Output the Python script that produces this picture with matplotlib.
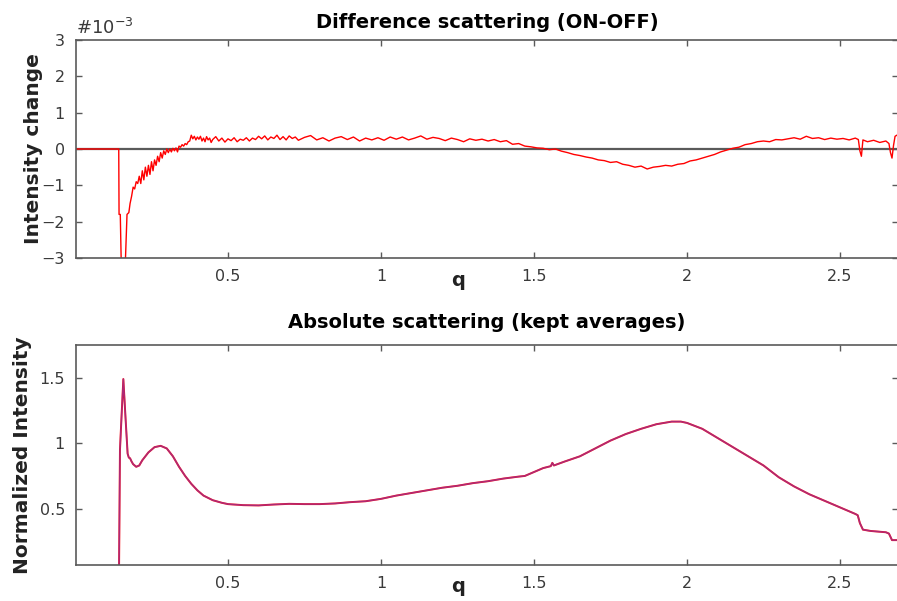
import matplotlib
matplotlib.use("Agg")
import matplotlib.pyplot as plt

# difference scattering (ON-OFF), values in units of 1e-3
q_diff = [0.0, 0.143, 0.144, 0.148, 0.152, 0.163, 0.17, 0.176, 0.18, 0.185,
          0.19, 0.195, 0.2, 0.205, 0.21, 0.215, 0.22, 0.225, 0.23, 0.235,
          0.24, 0.245, 0.25, 0.255, 0.26, 0.265, 0.27, 0.275, 0.28, 0.285,
          0.29, 0.295, 0.3, 0.305, 0.31, 0.315, 0.32, 0.325, 0.33, 0.335,
          0.34, 0.345, 0.35, 0.355, 0.36, 0.365, 0.37, 0.375, 0.38, 0.385,
          0.39, 0.395, 0.4, 0.405, 0.41, 0.415, 0.42, 0.425, 0.43, 0.435,
          0.44, 0.445, 0.45, 0.46, 0.47, 0.48, 0.49, 0.5, 0.51, 0.52,
          0.53, 0.54, 0.55, 0.56, 0.57, 0.58, 0.59, 0.6, 0.61, 0.62,
          0.63, 0.64, 0.65, 0.66, 0.67, 0.68, 0.69, 0.7, 0.71, 0.72,
          0.73, 0.75, 0.77, 0.79, 0.81, 0.83, 0.85, 0.87, 0.89, 0.91,
          0.93, 0.95, 0.97, 0.99, 1.01, 1.03, 1.05, 1.07, 1.09, 1.11,
          1.13, 1.15, 1.17, 1.19, 1.21, 1.23, 1.25, 1.27, 1.29, 1.31,
          1.33, 1.35, 1.37, 1.39, 1.41, 1.43, 1.45, 1.47, 1.49, 1.51,
          1.53, 1.55, 1.57, 1.59, 1.61, 1.63, 1.65, 1.67, 1.69, 1.71,
          1.73, 1.75, 1.77, 1.79, 1.81, 1.83, 1.85, 1.87, 1.89, 1.91,
          1.93, 1.95, 1.97, 1.99, 2.01, 2.03, 2.05, 2.07, 2.09, 2.11,
          2.13, 2.15, 2.17, 2.19, 2.21, 2.23, 2.25, 2.27, 2.29, 2.31,
          2.33, 2.35, 2.37, 2.39, 2.41, 2.43, 2.45, 2.47, 2.49, 2.51,
          2.53, 2.55, 2.56, 2.565, 2.57, 2.575, 2.59, 2.61, 2.63, 2.65,
          2.66, 2.665, 2.67, 2.675, 2.68, 2.69]
diff_on_off = [0.0, 0.0, -1.8, -1.8, -3.5, -3.5, -1.8, -1.75, -1.5, -1.3,
               -1.05, -1.1, -0.9, -0.95, -0.75, -0.95, -0.6, -0.85, -0.5, -0.75,
               -0.45, -0.7, -0.35, -0.6, -0.3, -0.45, -0.2, -0.35, -0.1, -0.25,
               -0.05, -0.15, 0.0, -0.1, 0.0, -0.08, 0.02, -0.05, 0.03, -0.08,
               0.08, 0.05, 0.12, 0.08, 0.15, 0.12, 0.2, 0.22, 0.38, 0.28,
               0.35, 0.25, 0.33, 0.27, 0.35, 0.22, 0.3, 0.2, 0.34, 0.25,
               0.3, 0.18, 0.26, 0.34, 0.22, 0.3, 0.19, 0.28, 0.23, 0.31,
               0.2, 0.27, 0.24, 0.31, 0.22, 0.3, 0.26, 0.35, 0.28, 0.36,
               0.25, 0.33, 0.29, 0.38, 0.26, 0.34, 0.25, 0.36, 0.29, 0.33,
               0.24, 0.32, 0.37, 0.25, 0.31, 0.22, 0.3, 0.34, 0.26, 0.33,
               0.22, 0.3, 0.25, 0.31, 0.24, 0.33, 0.27, 0.33, 0.25, 0.3,
               0.36, 0.27, 0.32, 0.29, 0.23, 0.3, 0.26, 0.2, 0.28, 0.24,
               0.27, 0.22, 0.26, 0.2, 0.23, 0.13, 0.15, 0.08, 0.06, 0.03,
               0.02, -0.02, 0.0, -0.06, -0.1, -0.15, -0.18, -0.22, -0.25, -0.3,
               -0.32, -0.37, -0.35, -0.42, -0.45, -0.5, -0.47, -0.55, -0.5, -0.48,
               -0.45, -0.47, -0.42, -0.4, -0.33, -0.3, -0.25, -0.2, -0.15, -0.08,
               -0.03, 0.02, 0.05, 0.12, 0.15, 0.2, 0.22, 0.2, 0.26, 0.25,
               0.28, 0.31, 0.27, 0.35, 0.29, 0.31, 0.26, 0.3, 0.27, 0.29,
               0.25, 0.3, 0.26, -0.05, -0.2, 0.25, 0.2, 0.24, 0.18, 0.22,
               0.15, -0.1, -0.25, 0.1, 0.35, 0.4]

# absolute scattering (kept averages)
q_abs = [0.143, 0.144, 0.147, 0.15, 0.158, 0.165, 0.172, 0.176, 0.18, 0.185,
         0.19, 0.2, 0.21, 0.22, 0.24, 0.26, 0.28, 0.3, 0.32, 0.34,
         0.36, 0.38, 0.4, 0.42, 0.45, 0.48, 0.5, 0.55, 0.6, 0.65,
         0.7, 0.75, 0.8, 0.85, 0.9, 0.95, 1.0, 1.05, 1.1, 1.15,
         1.2, 1.25, 1.3, 1.35, 1.4, 1.45, 1.47, 1.5, 1.53, 1.555,
         1.56, 1.565, 1.6, 1.65, 1.7, 1.75, 1.8, 1.85, 1.9, 1.95,
         1.98, 2.0, 2.05, 2.1, 2.15, 2.2, 2.25, 2.3, 2.35, 2.4,
         2.45, 2.5, 2.55, 2.558, 2.565, 2.575, 2.6, 2.65, 2.66, 2.67,
         2.69]
abs_avg = [0.0, 0.05, 0.95, 1.1, 1.49, 1.2, 0.92, 0.89, 0.885, 0.86,
           0.84, 0.82, 0.83, 0.87, 0.93, 0.97, 0.98, 0.96, 0.9, 0.82,
           0.75, 0.69, 0.64, 0.6, 0.565, 0.545, 0.535, 0.527, 0.525, 0.532,
           0.537, 0.535, 0.535, 0.54, 0.55, 0.557, 0.575, 0.6, 0.62, 0.64,
           0.66, 0.675, 0.695, 0.71, 0.73, 0.745, 0.75, 0.78, 0.81, 0.825,
           0.85, 0.83, 0.86, 0.9, 0.96, 1.02, 1.07, 1.11, 1.145, 1.165,
           1.165, 1.155, 1.11, 1.04, 0.97, 0.9, 0.83, 0.74, 0.67, 0.61,
           0.56, 0.51, 0.46, 0.45, 0.39, 0.34, 0.33, 0.32, 0.31, 0.26,
           0.26]

xticks = [0.5, 1, 1.5, 2, 2.5]
xlim = (0.0033, 2.6896)

W, H = 897, 601
fig = plt.figure(figsize=(W / 100, H / 100), dpi=100)
ax1 = fig.add_axes([76 / W, (H - 258) / H, 822 / W, 218 / H])
ax2 = fig.add_axes([76 / W, (H - 565) / H, 822 / W, 220 / H])


def style(ax):
    for s in ax.spines.values():
        s.set_color('#5a5a5a')
        s.set_linewidth(1.2)
    ax.tick_params(direction='in', top=True, right=True, length=4,
                   width=1, color='#5a5a5a', labelcolor='#3a3a3a',
                   labelsize=11.5, pad=8)
    ax.set_xlim(*xlim)
    ax.set_xticks(xticks)
    ax.set_xticklabels(['0.5', '1', '1.5', '2', '2.5'])


# top panel
ax1.axhline(0, color='#5a5a5a', lw=1.6, zorder=1)
ax1.plot(q_diff, diff_on_off, color='#ff0000', lw=1.0, zorder=2)
style(ax1)
ax1.set_ylim(-3, 3)
ax1.set_yticks([-3, -2, -1, 0, 1, 2, 3])
ax1.text(0.0, 1.01, '#10$^{-3}$', transform=ax1.transAxes, ha='left',
         va='bottom', fontsize=13, color='#3a3a3a')
ax1.set_title('Difference scattering (ON-OFF)', fontsize=14,
              fontweight='bold', pad=9)
ax1.set_ylabel('Intensity change', fontsize=14.5, fontweight='bold',
               color='#222222')
ax1.yaxis.set_label_coords(-0.040, 0.5)
ax1.set_xlabel('q', fontsize=14, fontweight='bold', color='#222222')
ax1.xaxis.set_label_coords(0.465, -0.06)

# bottom panel
ax2.plot(q_abs, abs_avg, color='#ff0000', lw=1.4)
ax2.plot(q_abs, abs_avg, color='#6a4cd8', lw=1.1, alpha=0.55)
style(ax2)
ax2.set_ylim(0.07, 1.75)
ax2.set_yticks([0.5, 1, 1.5])
ax2.set_yticklabels(['0.5', '1', '1.5'])
ax2.set_title('Absolute scattering (kept averages)', fontsize=14,
              fontweight='bold', pad=12)
ax2.set_ylabel('Normalized Intensity', fontsize=14.5, fontweight='bold',
               color='#222222')
ax2.yaxis.set_label_coords(-0.053, 0.5)
ax2.set_xlabel('q', fontsize=14, fontweight='bold', color='#222222')
ax2.xaxis.set_label_coords(0.465, -0.055)

fig.savefig('out.png', dpi=100)
